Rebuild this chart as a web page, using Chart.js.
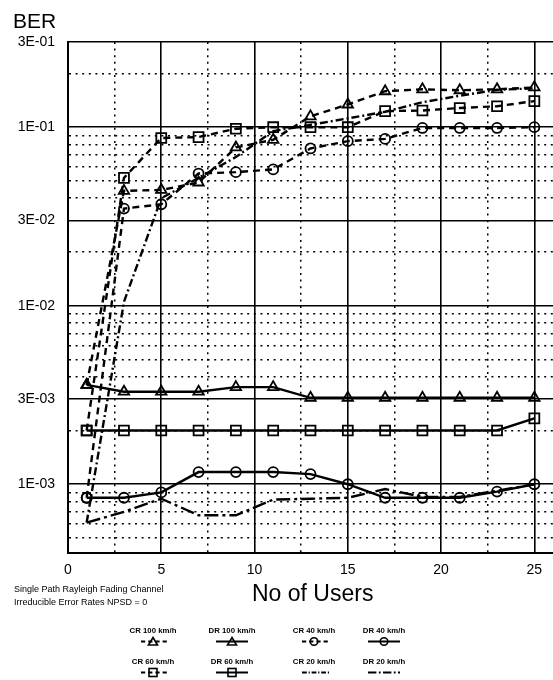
<!DOCTYPE html>
<html>
<head>
<meta charset="utf-8">
<script src="https://cdn.jsdelivr.net/npm/chart.js@4.4.0/dist/chart.umd.min.js"></script>
<style>
  html, body { margin: 0; padding: 0; background: #fff; }
  #wrap { position: relative; width: 553px; height: 680px; overflow: hidden; font-family: "Liberation Sans", Arial, sans-serif; color: #000; }
  #myChart { position: absolute; left: 0; top: 0; }
  .txt { position: absolute; white-space: nowrap; line-height: 1; }
  .leg { position: absolute; width: 80px; text-align: center; font-size: 7.8px; font-weight: bold; line-height: 1; }
  .leg svg { display: block; margin: 1px auto 0 auto; }
</style>
</head>
<body>
<div id="wrap">
  <canvas id="myChart" width="553" height="680"></canvas>
  <div class="txt" style="left:13px;top:10px;font-size:21px;">BER</div>
  <div class="txt" style="left:252px;top:582px;font-size:23px;">No of Users</div>
  <div class="txt" style="left:14px;top:585px;font-size:9px;">Single Path Rayleigh Fading Channel</div>
  <div class="txt" style="left:14px;top:598px;font-size:9px;">Irreducible Error Rates NPSD = 0</div>
  <div id="legend"></div>
</div>
<script>
var users = [1, 3, 5, 7, 9, 11, 13, 15, 17, 19, 21, 23, 25];

var cr100 = [3.6e-3, 4.4e-2, 4.45e-2, 4.9e-2, 7.7e-2, 8.5e-2, 1.15e-1, 1.34e-1, 1.59e-1, 1.63e-1, 1.61e-1, 1.63e-1, 1.67e-1];
var dr100 = [3.6e-3, 3.3e-3, 3.3e-3, 3.3e-3, 3.5e-3, 3.5e-3, 3.05e-3, 3.05e-3, 3.05e-3, 3.05e-3, 3.05e-3, 3.05e-3, 3.05e-3];
var cr40 = [8.4e-4, 3.5e-2, 3.7e-2, 5.5e-2, 5.6e-2, 5.8e-2, 7.6e-2, 8.35e-2, 8.6e-2, 9.9e-2, 9.9e-2, 9.9e-2, 1.0e-1];
var dr40 = [8.4e-4, 8.4e-4, 9.0e-4, 1.17e-3, 1.17e-3, 1.17e-3, 1.14e-3, 1.0e-3, 8.4e-4, 8.4e-4, 8.4e-4, 9.1e-4, 1.0e-3];
var cr60 = [2.0e-3, 5.2e-2, 8.7e-2, 8.8e-2, 9.8e-2, 1.0e-1, 1.0e-1, 1.0e-1, 1.23e-1, 1.24e-1, 1.28e-1, 1.31e-1, 1.40e-1];
var dr60 = [2.0e-3, 2.0e-3, 2.0e-3, 2.0e-3, 2.0e-3, 2.0e-3, 2.0e-3, 2.0e-3, 2.0e-3, 2.0e-3, 2.0e-3, 2.0e-3, 2.34e-3];
var cr20 = [6.1e-4, 1.05e-2, 4.0e-2, 5.2e-2, 6.8e-2, 9.5e-2, 1.03e-1, 1.12e-1, 1.22e-1, 1.38e-1, 1.50e-1, 1.62e-1, 1.65e-1];
var dr20 = [6.1e-4, 7.0e-4, 8.3e-4, 6.7e-4, 6.7e-4, 8.2e-4, 8.3e-4, 8.4e-4, 9.4e-4, 8.5e-4, 8.5e-4, 9.2e-4, 1.0e-3];

var seriesNames = ['CR 100 km/h', 'DR 100 km/h', 'CR 40 km/h', 'DR 40 km/h', 'CR 60 km/h', 'DR 60 km/h', 'CR 20 km/h', 'DR 20 km/h'];
var seriesValues = [cr100, dr100, cr40, dr40, cr60, dr60, cr20, dr20];

var yMajorTicks = [3e-1, 1e-1, 3e-2, 1e-2, 3e-3, 1e-3];
var yTickLabels = ['3E-01', '1E-01', '3E-02', '1E-02', '3E-03', '1E-03'];
var yMinorTicks = [2e-1, 9e-2, 8e-2, 7e-2, 6e-2, 5e-2, 4e-2, 2e-2, 9e-3, 8e-3, 7e-3, 6e-3, 5e-3, 4e-3, 2e-3, 9e-4, 8e-4, 7e-4, 6e-4, 5e-4];
var xMajorTicks = [0, 5, 10, 15, 20, 25];
var xMinorTicks = [2.5, 7.5, 12.5, 17.5, 22.5];

// look of each series: dash pattern and marker
var styles = [
  { dash: [7, 5], point: 'triangle', r: 6 },
  { dash: [], point: 'triangle', r: 6 },
  { dash: [7, 5], point: 'circle', r: 5 },
  { dash: [], point: 'circle', r: 5 },
  { dash: [7, 5], point: 'rect', r: 7 },
  { dash: [], point: 'rect', r: 7 },
  { dash: [8, 3, 2, 3], point: false, r: 0 },
  { dash: [14, 4, 3, 4], point: false, r: 0 }
];

function isIn(list, v) {
  for (var i = 0; i < list.length; i++) {
    if (Math.abs(list[i] - v) <= Math.abs(list[i]) * 1e-6 + 1e-9) return i;
  }
  return -1;
}

var datasets = [];
for (var s = 0; s < seriesNames.length; s++) {
  var pts = [];
  for (var i = 0; i < users.length; i++) {
    pts.push({ x: users[i], y: seriesValues[s][i] });
  }
  datasets.push({
    label: seriesNames[s],
    data: pts,
    borderColor: '#000',
    borderWidth: 2.4,
    borderDash: styles[s].dash,
    tension: 0,
    fill: false,
    pointStyle: styles[s].point || 'circle',
    pointRadius: styles[s].r,
    pointBorderWidth: 1.8,
    pointBorderColor: '#000',
    pointBackgroundColor: 'rgba(0,0,0,0)'
  });
}

var dotted = [2, 4.6];

var ctx = document.getElementById('myChart').getContext('2d');
var chart = new Chart(ctx, {
  type: 'line',
  data: { datasets: datasets },
  options: {
    responsive: false,
    animation: false,
    devicePixelRatio: 1,
    layout: { autoPadding: false, padding: { top: 42, right: 0, bottom: 0, left: 0 } },
    plugins: { legend: { display: false }, tooltip: { enabled: false } },
    scales: {
      x: {
        type: 'linear',
        min: 0,
        max: 26,
        afterBuildTicks: function (scale) {
          var t = xMajorTicks.concat(xMinorTicks).sort(function (a, b) { return a - b; });
          scale.ticks = t.map(function (v) { return { value: v }; });
        },
        afterFit: function (scale) { scale.height = 127; },
        ticks: {
          autoSkip: false,
          maxRotation: 0,
          padding: 9,
          color: '#000',
          font: { family: '"Liberation Sans", Arial, sans-serif', size: 14 },
          callback: function (v) { return isIn(xMajorTicks, v) >= 0 ? String(v) : ''; }
        },
        grid: {
          color: '#000',
          drawTicks: false,
          lineWidth: function (c) { return c.tick && isIn(xMajorTicks, c.tick.value) >= 0 ? 1.6 : 1.5; }
        },
        border: {
          color: '#000',
          width: 2,
          dash: function (c) { return c.tick && isIn(xMajorTicks, c.tick.value) < 0 ? dotted : []; }
        }
      },
      y: {
        type: 'logarithmic',
        min: 4.12e-4,
        max: 0.3,
        afterBuildTicks: function (scale) {
          var t = yMajorTicks.concat(yMinorTicks).sort(function (a, b) { return a - b; });
          scale.ticks = t.map(function (v) { return { value: v }; });
        },
        afterFit: function (scale) { scale.width = 68; },
        ticks: {
          autoSkip: false,
          padding: 13,
          color: '#000',
          font: { family: '"Liberation Sans", Arial, sans-serif', size: 14 },
          callback: function (v) {
            var k = isIn(yMajorTicks, v);
            return k >= 0 ? yTickLabels[k] : '';
          }
        },
        grid: {
          color: '#000',
          drawTicks: false,
          lineWidth: function (c) { return c.tick && isIn(yMajorTicks, c.tick.value) >= 0 ? 1.6 : 1.5; }
        },
        border: {
          color: '#000',
          width: 2,
          dash: function (c) { return c.tick && isIn(yMajorTicks, c.tick.value) < 0 ? dotted : []; }
        }
      }
    }
  }
});

// legend: label above a small line sample, 4 columns x 2 rows
var legCenters = [153, 232, 314, 384];
var legTops = [627, 658];
var legend = document.getElementById('legend');
function markerSvg(st) {
  if (st.point === 'triangle') return '<polygon points="18,1.5 22.5,9 13.5,9" fill="none" stroke="#000" stroke-width="1.6"/>';
  if (st.point === 'circle') return '<circle cx="18" cy="5.5" r="3.8" fill="none" stroke="#000" stroke-width="1.6"/>';
  if (st.point === 'rect') return '<rect x="14" y="1.5" width="8" height="8" fill="none" stroke="#000" stroke-width="1.6"/>';
  return '';
}
for (var k = 0; k < seriesNames.length; k++) {
  var st = styles[k];
  var div = document.createElement('div');
  div.className = 'leg';
  div.style.left = (legCenters[k % 4] - 40) + 'px';
  div.style.top = legTops[Math.floor(k / 4)] + 'px';
  var dash = st.dash.length ? ' stroke-dasharray="' + st.dash.map(function (d) { return d * 0.6; }).join(',') + '"' : '';
  var x1 = k % 2 === 0 ? 6 : 2;
  div.innerHTML = seriesNames[k] +
    '<svg width="36" height="11"><line x1="' + x1 + '" y1="5.5" x2="34" y2="5.5" stroke="#000" stroke-width="2"' + dash + '/>' +
    markerSvg(st) + '</svg>';
  legend.appendChild(div);
}
</script>
</body>
</html>
